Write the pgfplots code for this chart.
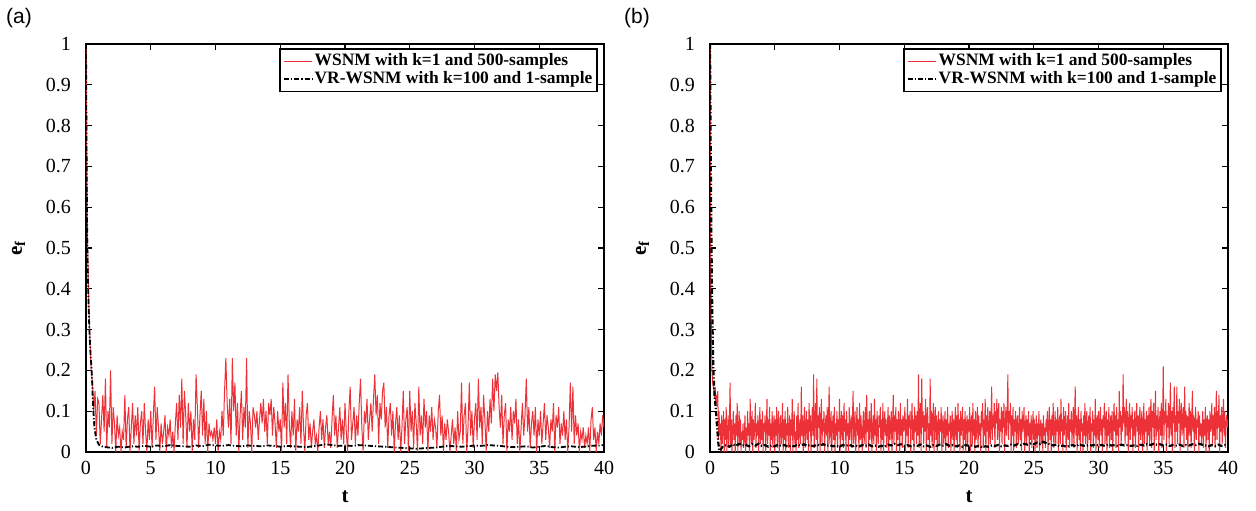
\documentclass[border=0pt]{standalone}
\usepackage{pgfplots}
\pgfplotsset{compat=1.18}
\usepackage{fontspec}
\setmainfont{Liberation Serif}
\newfontfamily\serifn{Liberation Serif}
\newfontfamily\sansf{Liberation Sans}
\definecolor{myred}{RGB}{236,50,56}
\pgfplotsset{
 myaxis/.style={
  scale only axis, width=259pt, height=204pt,
  xmin=0,xmax=40,ymin=0,ymax=1,
  xtick={0,5,10,15,20,25,30,35,40},
  ytick={0,0.1,0.2,0.3,0.4,0.5,0.6,0.7,0.8,0.9,1},
  tick align=inside, major tick length=3pt,
  every tick/.style={black, line width=0.6pt},
  axis line style={line width=1pt},
  tick label style={font=\serifn\fontsize{10}{12}\selectfont},
  /pgf/number format/assume math mode=true,
  yticklabel shift=4pt, xticklabel shift=1pt,
  xlabel={t}, ylabel={e\textsubscript{f}},
  x label style={at={(axis description cs:0.5,-0.11)}, anchor=center, font=\serifn\fontsize{10.5}{12}\selectfont\bfseries},
  y label style={at={(axis description cs:-0.13,0.5)}, anchor=center, font=\serifn\fontsize{10.5}{12}\selectfont\bfseries},
  legend style={at={(0.988,0.99)}, anchor=north east, font=\serifn\fontsize{8.7}{9.5}\selectfont\bfseries, draw=black, line width=0.8pt, inner sep=1.5pt, nodes={inner sep=0.8pt}, cells={anchor=west}},
  legend image code/.code={\draw[#1] (0pt,0pt) -- (14pt,0pt);},
 },
 redline/.style={draw=myred, line width=0.5pt},
 blackline/.style={draw=black, line width=0.9pt, dash pattern=on 2.5pt off 1pt on 0.6pt off 1pt},
}
\begin{document}
\begin{tikzpicture}
\useasboundingbox (0,0) rectangle (628pt,255pt);
\begin{axis}[myaxis, at={(43pt,29pt)}, anchor=south west]
\addplot[redline] table[row sep=\\, header=false, x expr=\coordindex*0.1, y index=0] {
1.00\\0.55\\0.38\\0.28\\0.20\\0.17\\0.10\\0.15\\0.04\\0.13\\
0.12\\0.02\\0.08\\0.14\\0.05\\0.18\\0.01\\0.10\\0.06\\0.20\\
0.02\\0.11\\0.07\\0.00\\0.09\\0.04\\0.06\\0.00\\0.05\\0.03\\
0.14\\0.01\\0.08\\0.11\\0.00\\0.06\\0.12\\0.02\\0.09\\0.04\\
0.11\\0.00\\0.07\\0.10\\0.02\\0.12\\0.05\\0.00\\0.08\\0.03\\
0.10\\0.01\\0.09\\0.16\\0.03\\0.11\\0.06\\0.00\\0.07\\0.02\\
0.05\\0.09\\0.00\\0.06\\0.04\\0.08\\0.01\\0.05\\0.00\\0.07\\
0.12\\0.03\\0.14\\0.06\\0.18\\0.02\\0.15\\0.09\\0.01\\0.12\\
0.05\\0.10\\0.00\\0.08\\0.03\\0.19\\0.11\\0.01\\0.09\\0.15\\
0.04\\0.13\\0.02\\0.10\\0.00\\0.07\\0.04\\0.05\\0.03\\0.06\\
0.02\\0.08\\0.00\\0.05\\0.03\\0.10\\0.04\\0.15\\0.23\\0.12\\
0.06\\0.13\\0.02\\0.23\\0.10\\0.17\\0.04\\0.12\\0.00\\0.09\\
0.15\\0.03\\0.11\\0.06\\0.23\\0.01\\0.10\\0.07\\0.00\\0.11\\
0.09\\0.06\\0.10\\0.03\\0.08\\0.12\\0.07\\0.13\\0.05\\0.10\\
0.02\\0.12\\0.09\\0.13\\0.04\\0.11\\0.07\\0.01\\0.10\\0.05\\
0.08\\0.00\\0.17\\0.06\\0.12\\0.02\\0.19\\0.07\\0.01\\0.10\\
0.04\\0.13\\0.00\\0.08\\0.05\\0.11\\0.02\\0.15\\0.06\\0.00\\
0.09\\0.12\\0.03\\0.07\\0.01\\0.05\\0.08\\0.02\\0.04\\0.00\\
0.06\\0.10\\0.03\\0.08\\0.01\\0.06\\0.09\\0.02\\0.05\\0.01\\
0.08\\0.14\\0.04\\0.09\\0.01\\0.06\\0.11\\0.03\\0.08\\0.02\\
0.12\\0.05\\0.00\\0.10\\0.16\\0.03\\0.07\\0.11\\0.02\\0.09\\
0.04\\0.12\\0.18\\0.06\\0.00\\0.10\\0.07\\0.13\\0.03\\0.08\\
0.12\\0.05\\0.13\\0.19\\0.09\\0.14\\0.02\\0.12\\0.08\\0.15\\
0.17\\0.06\\0.11\\0.01\\0.09\\0.12\\0.04\\0.10\\0.00\\0.07\\
0.11\\0.03\\0.09\\0.00\\0.06\\0.15\\0.02\\0.08\\0.11\\0.00\\
0.15\\0.05\\0.10\\0.01\\0.12\\0.07\\0.00\\0.16\\0.04\\0.09\\
0.02\\0.13\\0.06\\0.10\\0.00\\0.09\\0.05\\0.11\\0.03\\0.08\\
0.06\\0.01\\0.10\\0.14\\0.04\\0.09\\0.00\\0.07\\0.03\\0.08\\
0.05\\0.00\\0.04\\0.08\\0.02\\0.06\\0.00\\0.10\\0.03\\0.05\\
0.17\\0.02\\0.09\\0.12\\0.00\\0.06\\0.17\\0.04\\0.10\\0.01\\
0.08\\0.12\\0.03\\0.18\\0.06\\0.11\\0.02\\0.14\\0.08\\0.00\\
0.10\\0.05\\0.13\\0.07\\0.18\\0.10\\0.19\\0.15\\0.195\\0.11\\
0.06\\0.14\\0.02\\0.09\\0.12\\0.00\\0.08\\0.05\\0.11\\0.03\\
0.10\\0.07\\0.13\\0.02\\0.08\\0.00\\0.06\\0.12\\0.04\\0.09\\
0.18\\0.05\\0.11\\0.01\\0.07\\0.10\\0.04\\0.11\\0.00\\0.08\\
0.04\\0.10\\0.02\\0.07\\0.12\\0.03\\0.09\\0.06\\0.01\\0.08\\
0.05\\0.12\\0.00\\0.09\\0.06\\0.11\\0.02\\0.07\\0.04\\0.10\\
0.03\\0.08\\0.00\\0.06\\0.17\\0.05\\0.16\\0.02\\0.09\\0.04\\
0.07\\0.00\\0.05\\0.03\\0.06\\0.01\\0.04\\0.02\\0.06\\0.00\\
0.08\\0.11\\0.03\\0.06\\0.00\\0.05\\0.02\\0.07\\0.04\\0.09\\
0.06\\
};
\addlegendentry{WSNM with k=1 and 500-samples}
\addplot[blackline] coordinates {
(0,1)(0.05,0.7)(0.1,0.5)(0.2,0.36)(0.26,0.3)(0.35,0.24)(0.44,0.2)(0.5,0.15)(0.57,0.1)(0.65,0.06)(0.8,0.03)(1.0,0.018)(1.3,0.013)
(1.5,0.012)(2,0.010)(2.5,0.013)(3,0.011)(3.5,0.014)(4,0.013)(4.5,0.015)(5,0.013)(5.5,0.016)(6,0.014)(6.5,0.017)(7,0.015)(7.5,0.014)(8,0.013)
(8.5,0.016)(9,0.014)(9.5,0.018)(10,0.016)(10.5,0.015)(11,0.017)(11.5,0.015)(12,0.014)(12.5,0.016)(13,0.015)(13.5,0.014)(14,0.016)(14.5,0.015)
(15,0.013)(15.5,0.015)(16,0.014)(16.5,0.013)(17,0.012)(17.5,0.014)(18,0.016)(18.5,0.019)(19,0.017)(19.5,0.015)(20,0.016)(20.5,0.015)(21,0.017)
(21.5,0.016)(22,0.015)(22.5,0.014)(23,0.013)(23.5,0.012)(24,0.011)(24.5,0.010)(25,0.009)(25.5,0.008)(26,0.009)(26.5,0.010)(27,0.011)(27.5,0.013)
(28,0.015)(28.5,0.014)(29,0.013)(29.5,0.014)(30,0.016)(30.5,0.015)(31,0.017)(31.5,0.016)(32,0.015)(32.5,0.013)(33,0.012)(33.5,0.013)(34,0.014)
(34.5,0.011)(35,0.013)(35.5,0.015)(36,0.012)(36.5,0.011)(37,0.013)(37.5,0.014)(38,0.012)(38.5,0.013)(39,0.015)(39.5,0.016)(40,0.017)
};
\addlegendentry{VR-WSNM with k=100 and 1-sample}
\end{axis}
\begin{axis}[myaxis, at={(355pt,29pt)}, anchor=south west]
\addplot[redline] table[row sep=\\, header=false, x expr=\coordindex*0.05, y index=0] {
1.00\\0.50\\0.30\\0.20\\0.17\\0.16\\0.15\\0.13\\0.16\\0.12\\0.14\\0.11\\0.15\\0.03\\0.10\\0.04\\0.07\\0.00\\0.09\\0.02\\
0.06\\0.10\\0.00\\0.08\\0.03\\0.11\\0.00\\0.05\\0.09\\0.01\\0.07\\0.17\\0.02\\0.08\\0.00\\0.06\\0.10\\0.03\\0.07\\0.00\\
0.09\\0.04\\0.12\\0.00\\0.06\\0.10\\0.02\\0.08\\0.00\\0.05\\0.03\\0.07\\0.01\\0.04\\0.09\\0.00\\0.06\\0.02\\0.10\\0.04\\
0.07\\0.00\\0.13\\0.05\\0.02\\0.10\\0.00\\0.08\\0.03\\0.06\\0.12\\0.01\\0.07\\0.04\\0.09\\0.00\\0.05\\0.11\\0.02\\0.08\\
0.03\\0.10\\0.00\\0.07\\0.05\\0.09\\0.00\\0.06\\0.13\\0.02\\0.08\\0.04\\0.11\\0.00\\0.07\\0.03\\0.10\\0.01\\0.06\\0.09\\
0.00\\0.08\\0.04\\0.11\\0.01\\0.07\\0.10\\0.00\\0.05\\0.09\\0.02\\0.06\\0.12\\0.00\\0.08\\0.03\\0.10\\0.00\\0.07\\0.04\\
0.11\\0.01\\0.06\\0.09\\0.00\\0.08\\0.04\\0.13\\0.00\\0.07\\0.10\\0.02\\0.05\\0.00\\0.09\\0.03\\0.12\\0.01\\0.06\\0.08\\
0.02\\0.16\\0.04\\0.09\\0.00\\0.07\\0.11\\0.01\\0.06\\0.10\\0.03\\0.08\\0.00\\0.12\\0.05\\0.09\\0.00\\0.07\\0.11\\0.04\\
0.19\\0.01\\0.08\\0.12\\0.03\\0.18\\0.00\\0.09\\0.06\\0.11\\0.00\\0.07\\0.13\\0.02\\0.08\\0.05\\0.10\\0.00\\0.06\\0.09\\
0.04\\0.11\\0.00\\0.08\\0.16\\0.02\\0.07\\0.10\\0.00\\0.06\\0.09\\0.03\\0.11\\0.00\\0.07\\0.04\\0.10\\0.01\\0.08\\0.05\\
0.13\\0.00\\0.07\\0.10\\0.03\\0.09\\0.01\\0.12\\0.05\\0.08\\0.00\\0.10\\0.04\\0.07\\0.00\\0.11\\0.03\\0.06\\0.09\\0.01\\
0.08\\0.15\\0.02\\0.07\\0.10\\0.00\\0.06\\0.11\\0.04\\0.08\\0.00\\0.12\\0.03\\0.09\\0.05\\0.00\\0.07\\0.10\\0.02\\0.06\\
0.11\\0.01\\0.14\\0.05\\0.08\\0.00\\0.10\\0.03\\0.07\\0.12\\0.00\\0.06\\0.09\\0.02\\0.13\\0.04\\0.08\\0.00\\0.10\\0.05\\
0.02\\0.09\\0.06\\0.11\\0.00\\0.08\\0.03\\0.12\\0.00\\0.07\\0.10\\0.04\\0.08\\0.01\\0.06\\0.11\\0.00\\0.09\\0.03\\0.07\\
0.10\\0.00\\0.07\\0.14\\0.02\\0.09\\0.05\\0.11\\0.00\\0.08\\0.03\\0.10\\0.06\\0.00\\0.12\\0.04\\0.08\\0.01\\0.09\\0.05\\
0.07\\0.11\\0.00\\0.08\\0.04\\0.13\\0.01\\0.09\\0.06\\0.10\\0.00\\0.07\\0.12\\0.03\\0.08\\0.00\\0.11\\0.05\\0.09\\0.02\\
0.10\\0.04\\0.19\\0.01\\0.08\\0.12\\0.00\\0.18\\0.06\\0.10\\0.02\\0.09\\0.05\\0.13\\0.00\\0.08\\0.11\\0.03\\0.07\\0.00\\
0.18\\0.04\\0.10\\0.01\\0.08\\0.12\\0.00\\0.07\\0.11\\0.03\\0.09\\0.00\\0.06\\0.10\\0.02\\0.08\\0.05\\0.11\\0.00\\0.07\\
0.09\\0.02\\0.06\\0.10\\0.00\\0.08\\0.04\\0.11\\0.01\\0.07\\0.05\\0.09\\0.00\\0.06\\0.10\\0.03\\0.08\\0.00\\0.07\\0.11\\
0.03\\0.09\\0.01\\0.12\\0.05\\0.08\\0.00\\0.10\\0.04\\0.07\\0.11\\0.00\\0.08\\0.03\\0.10\\0.00\\0.06\\0.09\\0.02\\0.08\\
0.05\\0.11\\0.00\\0.07\\0.09\\0.02\\0.12\\0.04\\0.08\\0.00\\0.10\\0.03\\0.06\\0.11\\0.01\\0.09\\0.04\\0.07\\0.00\\0.10\\
0.06\\0.12\\0.01\\0.08\\0.04\\0.13\\0.00\\0.09\\0.05\\0.11\\0.00\\0.07\\0.10\\0.02\\0.08\\0.16\\0.03\\0.09\\0.06\\0.12\\
0.01\\0.10\\0.07\\0.13\\0.03\\0.09\\0.12\\0.00\\0.08\\0.05\\0.11\\0.02\\0.10\\0.06\\0.12\\0.00\\0.07\\0.11\\0.04\\0.09\\
0.19\\0.03\\0.10\\0.07\\0.12\\0.00\\0.09\\0.04\\0.11\\0.00\\0.08\\0.05\\0.10\\0.01\\0.07\\0.09\\0.02\\0.06\\0.11\\0.03\\
0.08\\0.00\\0.10\\0.05\\0.07\\0.11\\0.00\\0.06\\0.09\\0.02\\0.08\\0.04\\0.10\\0.00\\0.07\\0.03\\0.09\\0.01\\0.06\\0.10\\
0.03\\0.08\\0.00\\0.05\\0.09\\0.01\\0.07\\0.04\\0.10\\0.00\\0.06\\0.08\\0.02\\0.07\\0.00\\0.09\\0.04\\0.06\\0.01\\0.08\\
0.05\\0.10\\0.00\\0.07\\0.11\\0.03\\0.08\\0.00\\0.09\\0.04\\0.12\\0.01\\0.06\\0.10\\0.02\\0.08\\0.05\\0.11\\0.00\\0.07\\
0.09\\0.02\\0.13\\0.05\\0.08\\0.00\\0.11\\0.04\\0.07\\0.10\\0.00\\0.06\\0.09\\0.03\\0.12\\0.01\\0.08\\0.05\\0.10\\0.02\\
0.07\\0.11\\0.01\\0.08\\0.16\\0.04\\0.09\\0.00\\0.07\\0.11\\0.03\\0.08\\0.00\\0.10\\0.05\\0.07\\0.00\\0.09\\0.04\\0.12\\
0.02\\0.08\\0.10\\0.00\\0.06\\0.09\\0.03\\0.11\\0.00\\0.07\\0.05\\0.10\\0.01\\0.08\\0.04\\0.13\\0.00\\0.07\\0.09\\0.03\\
0.10\\0.01\\0.07\\0.11\\0.04\\0.08\\0.00\\0.09\\0.06\\0.12\\0.02\\0.07\\0.10\\0.00\\0.08\\0.04\\0.11\\0.01\\0.06\\0.09\\
0.03\\0.10\\0.00\\0.07\\0.12\\0.05\\0.09\\0.01\\0.11\\0.04\\0.08\\0.00\\0.15\\0.06\\0.10\\0.02\\0.09\\0.05\\0.19\\0.07\\
0.11\\0.02\\0.08\\0.13\\0.04\\0.10\\0.00\\0.07\\0.12\\0.03\\0.09\\0.06\\0.11\\0.00\\0.08\\0.04\\0.10\\0.01\\0.07\\0.12\\
0.05\\0.09\\0.00\\0.08\\0.11\\0.03\\0.07\\0.10\\0.00\\0.06\\0.12\\0.02\\0.08\\0.05\\0.10\\0.00\\0.09\\0.04\\0.11\\0.02\\
0.08\\0.13\\0.01\\0.10\\0.06\\0.12\\0.00\\0.08\\0.15\\0.03\\0.09\\0.05\\0.11\\0.00\\0.07\\0.10\\0.04\\0.12\\0.01\\0.08\\
0.21\\0.03\\0.10\\0.07\\0.13\\0.00\\0.09\\0.06\\0.12\\0.02\\0.08\\0.17\\0.04\\0.10\\0.00\\0.11\\0.07\\0.16\\0.01\\0.09\\
0.05\\0.16\\0.02\\0.10\\0.07\\0.13\\0.00\\0.09\\0.12\\0.04\\0.08\\0.11\\0.01\\0.16\\0.06\\0.10\\0.03\\0.09\\0.00\\0.07\\
0.12\\0.04\\0.10\\0.01\\0.08\\0.15\\0.05\\0.09\\0.00\\0.07\\0.11\\0.03\\0.08\\0.06\\0.10\\0.00\\0.09\\0.04\\0.07\\0.02\\
0.06\\0.10\\0.01\\0.08\\0.04\\0.11\\0.00\\0.07\\0.09\\0.03\\0.08\\0.00\\0.10\\0.05\\0.07\\0.12\\0.02\\0.09\\0.04\\0.11\\
0.01\\0.08\\0.15\\0.03\\0.10\\0.06\\0.14\\0.00\\0.09\\0.05\\0.11\\0.02\\0.08\\0.13\\0.04\\0.10\\0.01\\0.07\\0.09\\0.06\\
0.08\\
};
\addlegendentry{WSNM with k=1 and 500-samples}
\addplot[blackline, line width=1.1pt] coordinates {
(0,1)(0.05,0.75)(0.1,0.55)(0.15,0.4)(0.2,0.3)(0.26,0.2)(0.35,0.14)(0.46,0.1)(0.55,0.06)(0.65,0.02)(0.72,0.003)(0.8,0.004)(0.9,0.01)(1.0,0.014)
(1.25,0.017)(1.5,0.013)(1.75,0.019)(2,0.015)(2.25,0.020)(2.5,0.016)(2.75,0.018)(3,0.014)(3.25,0.019)(3.5,0.016)(3.75,0.020)(4,0.015)(4.25,0.017)(4.5,0.013)
(4.75,0.016)(5,0.014)(5.25,0.018)(5.5,0.015)(5.75,0.017)(6,0.013)(6.25,0.016)(6.5,0.014)(6.75,0.018)(7,0.016)(7.25,0.019)(7.5,0.015)(7.75,0.017)(8,0.014)
(8.25,0.018)(8.5,0.016)(8.75,0.019)(9,0.015)(9.25,0.017)(9.5,0.014)(9.75,0.016)(10,0.013)(10.25,0.017)(10.5,0.015)(10.75,0.018)(11,0.014)(11.25,0.016)(11.5,0.013)
(11.75,0.017)(12,0.015)(12.25,0.018)(12.5,0.014)(12.75,0.016)(13,0.013)(13.25,0.015)(13.5,0.014)(13.75,0.018)(14,0.016)(14.25,0.020)(14.5,0.017)(14.75,0.019)(15,0.015)
(15.25,0.017)(15.5,0.014)(15.75,0.016)(16,0.015)(16.25,0.018)(16.5,0.014)(16.75,0.016)(17,0.013)(17.25,0.017)(17.5,0.015)(17.75,0.018)(18,0.016)(18.25,0.019)(18.5,0.015)
(18.75,0.017)(19,0.014)(19.25,0.016)(19.5,0.013)(19.75,0.017)(20,0.015)(20.25,0.016)(20.5,0.013)(20.75,0.015)(21,0.012)(21.25,0.014)(21.5,0.013)(21.75,0.016)(22,0.015)
(22.25,0.017)(22.5,0.014)(22.75,0.016)(23,0.015)(23.25,0.018)(23.5,0.016)(23.75,0.019)(24,0.017)(24.25,0.020)(24.5,0.018)(24.75,0.021)(25,0.019)(25.25,0.023)(25.5,0.020)
(25.75,0.025)(26,0.021)(26.25,0.019)(26.5,0.016)(26.75,0.018)(27,0.014)(27.25,0.016)(27.5,0.013)(27.75,0.015)(28,0.017)(28.25,0.014)(28.5,0.019)(28.75,0.016)(29,0.015)
(29.25,0.017)(29.5,0.016)(29.75,0.018)(30,0.016)(30.25,0.017)(30.5,0.015)(30.75,0.018)(31,0.016)(31.25,0.017)(31.5,0.015)(31.75,0.018)(32,0.016)(32.25,0.017)(32.5,0.015)
(32.75,0.016)(33,0.015)(33.25,0.018)(33.5,0.016)(33.75,0.019)(34,0.017)(34.25,0.020)(34.5,0.018)(34.75,0.019)(35,0.016)(35.25,0.018)(35.5,0.015)(35.75,0.017)(36,0.016)
(36.25,0.018)(36.5,0.015)(36.75,0.017)(37,0.016)(37.25,0.019)(37.5,0.017)(37.75,0.020)(38,0.018)(38.25,0.016)(38.5,0.014)(38.75,0.017)(39,0.015)(39.25,0.018)(39.5,0.015)
(39.75,0.017)(40,0.016)
};
\addlegendentry{VR-WSNM with k=100 and 1-sample}
\end{axis}
\node[font=\sansf\fontsize{10.5}{12}\selectfont] at (9.5pt,246pt) {(a)};
\node[font=\sansf\fontsize{10.5}{12}\selectfont] at (318.5pt,246pt) {(b)};
\end{tikzpicture}
\end{document}
